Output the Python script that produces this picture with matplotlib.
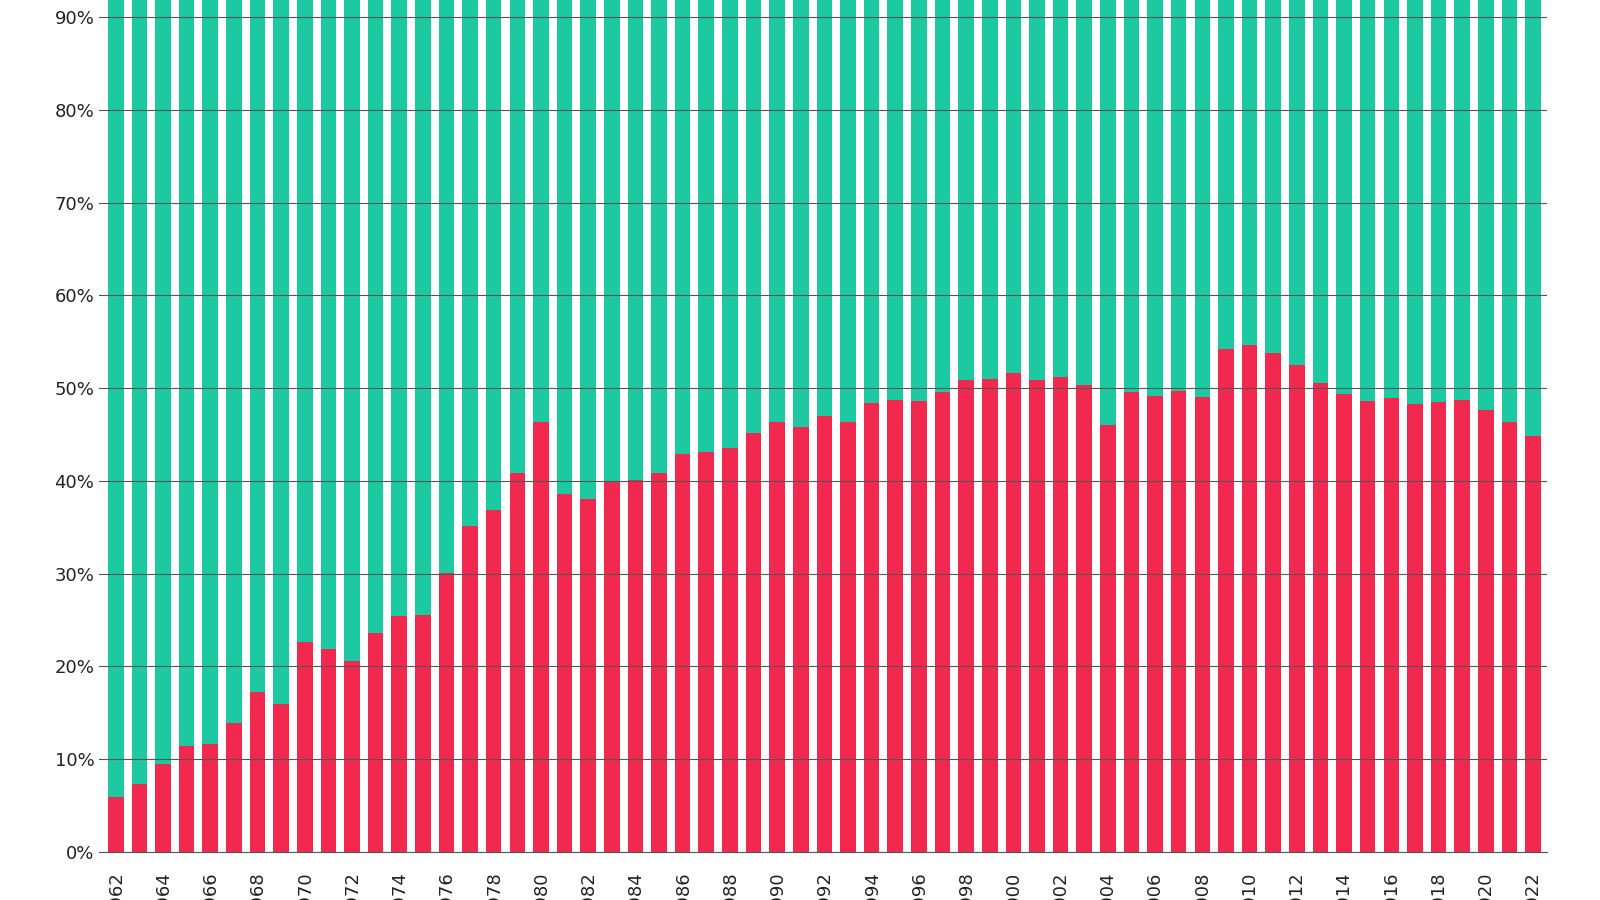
import matplotlib
matplotlib.use('Agg')
import matplotlib.pyplot as plt
from matplotlib.ticker import PercentFormatter

years = list(range(1962, 2023))
red_share = [5.9, 7.3, 9.5, 11.4, 11.6, 13.9, 17.2, 15.9, 22.6, 21.9,
             20.6, 23.6, 25.4, 25.5, 30.1, 35.1, 36.9, 40.8, 46.3, 38.6,
             38.1, 40.0, 40.1, 40.9, 42.9, 43.1, 43.5, 45.2, 46.3, 45.8,
             47.0, 46.3, 48.4, 48.7, 48.6, 49.6, 50.9, 51.0, 51.6, 50.9,
             51.2, 50.3, 46.0, 49.6, 49.1, 49.7, 49.0, 54.2, 54.6, 53.8,
             52.5, 50.6, 49.4, 48.6, 48.9, 48.3, 48.5, 48.7, 47.6, 46.3,
             44.8]
green_share = [100 - v for v in red_share]

fig = plt.figure(figsize=(16, 9), dpi=100)
ax = fig.add_axes([0.062, 0.0533, 0.905, 1.031])

x = list(range(len(years)))
ax.bar(x, red_share, width=0.66, color="#F2294E", zorder=2)
ax.bar(x, green_share, bottom=red_share, width=0.66, color="#1DC9A0", zorder=2)

ax.set_ylim(0, 100)
ax.set_xlim(-0.7, len(years) - 0.4)
ax.set_yticks(range(0, 101, 10))
ax.yaxis.set_major_formatter(PercentFormatter(decimals=0))
ax.grid(axis='y', color='#555555', linewidth=0.8, zorder=3)
ax.set_axisbelow(False)
ax.set_xticks(x[::2])
ax.set_xticklabels([str(y) for y in years[::2]], rotation=90)
ax.tick_params(axis='both', labelsize=13, length=0, labelcolor='#222222')
ax.tick_params(axis='x', pad=14)
for s in ['top', 'right', 'left']:
    ax.spines[s].set_visible(False)
ax.spines['bottom'].set_color('#555555')

plt.savefig("out.png")
